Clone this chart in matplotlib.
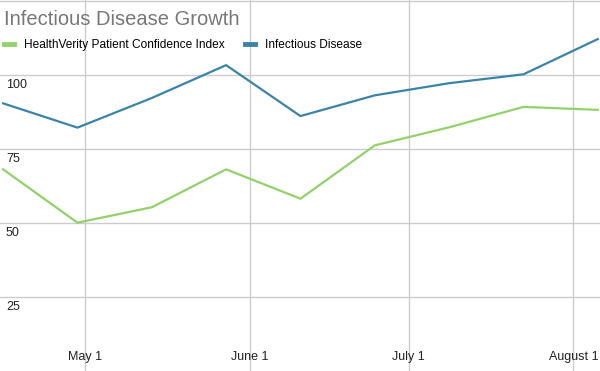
import matplotlib
matplotlib.use("Agg")
import matplotlib.pyplot as plt
import matplotlib.transforms as mtransforms
import datetime as dt

# biweekly data points
dates = [dt.datetime(2020, 4, 15, 14) + dt.timedelta(days=14 * i) for i in range(9)]
confidence = [68.1, 50.1, 55.3, 68.1, 58.2, 76.2, 82.3, 89.2, 88.2]
infectious = [90.4, 82.2, 92.2, 103.3, 86.1, 93.1, 97.2, 100.2, 112.1]

series_names = ["HealthVerity Patient Confidence Index", "Infectious Disease"]
series_colors = ["#93d16d", "#3b84a8"]

y_ticks = [25, 50, 75, 100]
x_ticks = [dt.date(2020, 5, 1), dt.date(2020, 6, 1), dt.date(2020, 7, 1), dt.date(2020, 8, 1)]
x_labels = ["May 1", "June 1", "July 1", "August 1"]

plt.rcParams["font.family"] = ["Liberation Sans", "DejaVu Sans"]

fig = plt.figure(figsize=(6, 3.71), dpi=100)
ax = fig.add_axes([0, 0, 1, 1])

ax.set_xlim(dt.date(2020, 4, 15), dt.date(2020, 8, 6))
ax.set_ylim(0, 125.3)

for vals, name, col in zip([confidence, infectious], series_names, series_colors):
    ax.plot(dates, vals, color=col, lw=1.6, label=name, zorder=3)

# grid
ax.set_yticks(y_ticks + [125])
ax.set_xticks(x_ticks)
ax.grid(True, color="#cccccc", lw=1.0, zorder=0)
ax.tick_params(length=0, labelleft=False, labelbottom=False)
for s in ax.spines.values():
    s.set_visible(False)

# tick labels drawn inside the plot
ytrans = mtransforms.blended_transform_factory(ax.transAxes, ax.transData)
for v in y_ticks:
    ax.text(0.01, v - 1.4, str(v), transform=ytrans, ha="left", va="top",
            fontsize=9, color="#222222")

xtrans = mtransforms.blended_transform_factory(ax.transData, ax.transAxes)
for d, lab in zip(x_ticks, x_labels):
    ax.text(d, 0.037, lab, transform=xtrans, ha="center", va="center",
            fontsize=9, color="#222222")

ax.text(0.006, 0.947, "Infectious Disease Growth", transform=ax.transAxes,
        ha="left", va="center", fontsize=14.5, color="#777777")

leg = ax.legend(loc="upper left", bbox_to_anchor=(0.007, 0.895), ncol=2,
                frameon=False, fontsize=8.6, handlelength=0.8, handletextpad=0.85,
                columnspacing=1.7, borderaxespad=0, borderpad=0)
for line in leg.get_lines():
    line.set_linewidth(3.5)

fig.savefig("out.png", dpi=100)
